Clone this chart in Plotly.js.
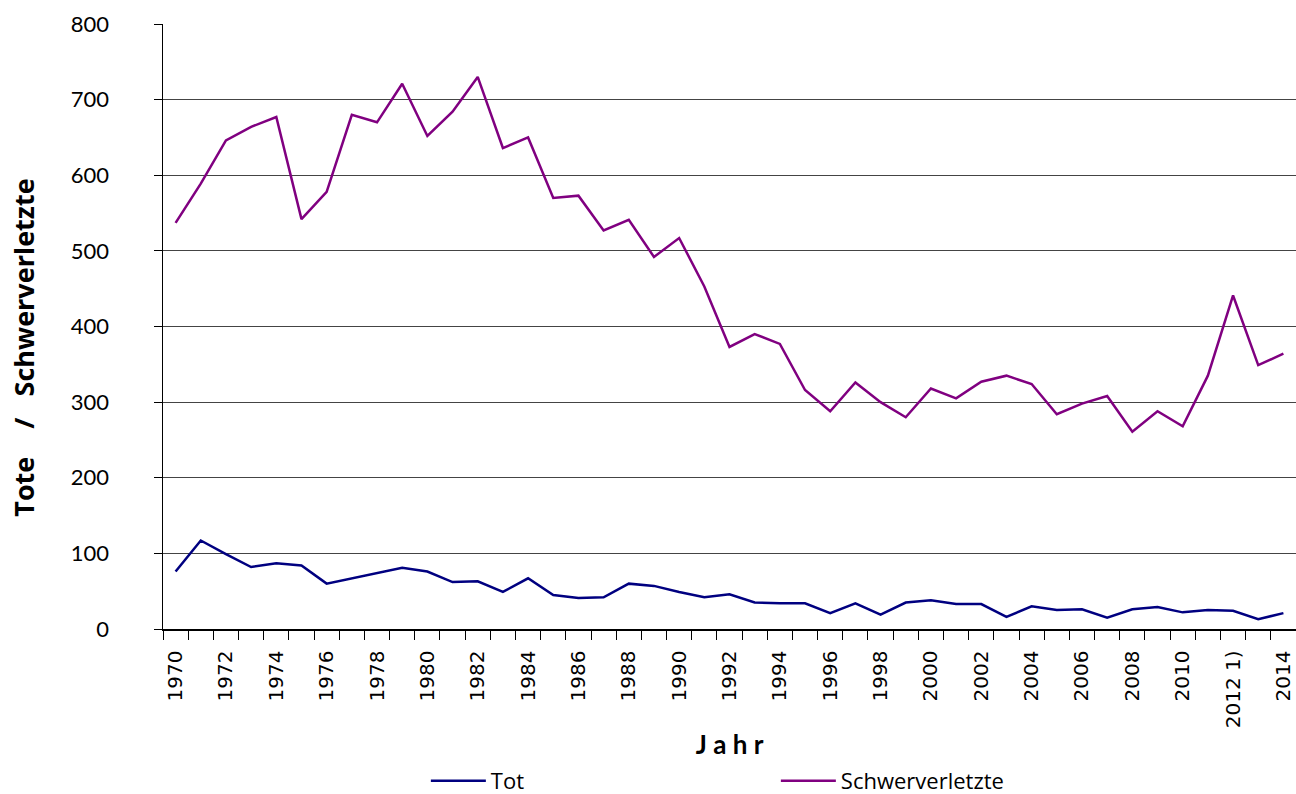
<!DOCTYPE html>
<html>
<head>
<meta charset="utf-8">
<script src="https://cdn.plot.ly/plotly-3.0.1.min.js"></script>
<style>html,body{margin:0;padding:0;background:#fff;}#chart{width:1296px;height:794px;}</style>
</head>
<body>
<div id="chart"></div>
<script>
const years = [1970,1971,1972,1973,1974,1975,1976,1977,1978,1979,1980,1981,1982,1983,1984,1985,1986,1987,1988,1989,1990,1991,1992,1993,1994,1995,1996,1997,1998,1999,2000,2001,2002,2003,2004,2005,2006,2007,2008,2009,2010,2011,2012,2013,2014];
const tot = [76,117,99,82,87,84,60,67,75,81,76,62,63,49,67,45,41,42,60,57,49,42,46,35,34,34,21,34,19,35,38,33,33,16,30,25,26,15,26,29,22,25,24,13,21];
const schwerverletzte = [537,589,646,664,677,542,578,680,670,721,652,684,730,636,650,570,573,527,541,492,517,453,373,390,377,316,288,326,300,280,318,305,327,335,324,284,298,308,261,288,268,335,441,349,364];
const tickYears = [1970,1972,1974,1976,1978,1980,1982,1984,1986,1988,1990,1992,1994,1996,1998,2000,2002,2004,2006,2008,2010,2012,2014];
const tickLabels = ["1970","1972","1974","1976","1978","1980","1982","1984","1986","1988","1990","1992","1994","1996","1998","2000","2002","2004","2006","2008","2010","2012 1)","2014"];
const seriesNames = ["Tot","Schwerverletzte"];

const traces = [
  {x: years, y: tot, name: seriesNames[0], type: 'scatter', mode: 'lines', line: {color: '#000080', width: 2.5}},
  {x: years, y: schwerverletzte, name: seriesNames[1], type: 'scatter', mode: 'lines', line: {color: '#800080', width: 2.5}}
];
const layout = {
  width: 1296, height: 794,
  margin: {l: 163, r: 0, t: 24, b: 165},
  paper_bgcolor: '#fff', plot_bgcolor: '#fff',
  font: {family: "Lato, sans-serif", size: 20, color: '#000'},
  showlegend: true,
  legend: {orientation: 'h', x: 0.232, xanchor: 'left', yref: 'container', y: 0.0164, yanchor: 'middle',
           entrywidth: 280, itemwidth: 55, font: {family: "'Open Sans', sans-serif", size: 22}},
  xaxis: {
    range: [1969.5, 2014.5], tickmode: 'array', tickvals: tickYears, ticktext: tickLabels,
    tickangle: -90, ticks: '', showgrid: false, zeroline: false, automargin: false,
    showline: true, linecolor: '#000', linewidth: 1.5, ticklabelstandoff: 12,
    minor: {tickmode: 'linear', tick0: 1969.5, dtick: 1, ticks: 'outside', ticklen: 9, tickcolor: '#000', tickwidth: 1, showgrid: false},
    title: {text: '<b>J a h r</b>', font: {family: "Lato, sans-serif", size: 26}, standoff: 10},
    tickfont: {family: "'DejaVu Sans', sans-serif", size: 20}
  },
  yaxis: {
    range: [0, 800], dtick: 100, ticks: 'outside', ticklen: 8, tickcolor: '#000',
    showgrid: true, gridcolor: '#444', gridwidth: 1, zeroline: false, automargin: false,
    showline: true, linecolor: '#000', linewidth: 1.5,
    ticklabelstandoff: 40,
    title: {text: '<b>Tote&nbsp;&nbsp;&nbsp;&nbsp;/&nbsp;&nbsp;&nbsp;Schwerverletzte&nbsp;&nbsp;&nbsp;&nbsp;&nbsp;&nbsp;</b>', font: {family: "'Open Sans', sans-serif", size: 27}, standoff: 28},
    tickfont: {family: "Lato, sans-serif", size: 22}
  }
};
Plotly.newPlot('chart', traces, layout, {displayModeBar: false, staticPlot: true});
</script>
</body>
</html>
